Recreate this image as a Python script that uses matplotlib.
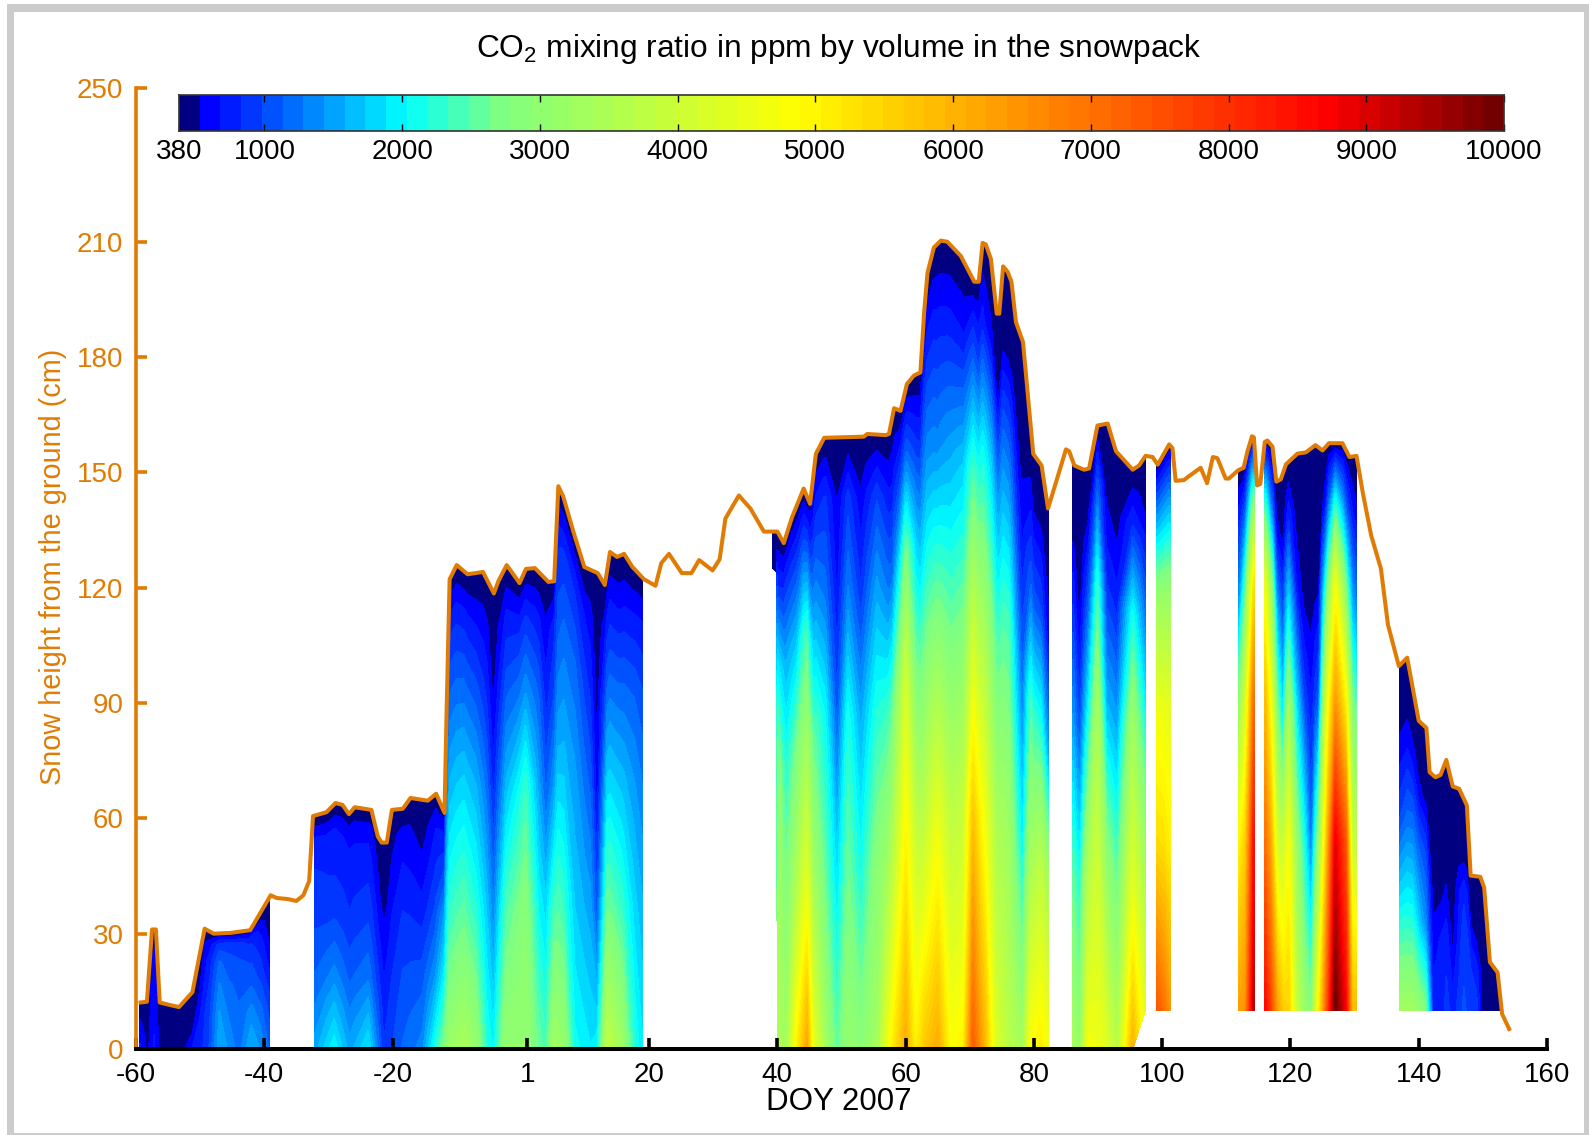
import numpy as np
import matplotlib
matplotlib.use("Agg")
import matplotlib.pyplot as plt
from matplotlib.colors import LinearSegmentedColormap, BoundaryNorm
from matplotlib.patches import Rectangle

plt.rcParams['font.family'] = ['Liberation Sans', 'DejaVu Sans']
plt.rcParams['mathtext.fontset'] = 'custom'
plt.rcParams['mathtext.rm'] = 'Liberation Sans'
plt.rcParams['mathtext.default'] = 'regular'

# snow height line (day, cm)
line_days = [-59.3, -58.3, -57.5, -56.9, -56.3, -55.1, -53.3, -51.2, -49.3, -47.9, -45.3, -42.2, -39, -38.1,
             -36.3, -35, -33.9, -33, -32.4, -30.3, -28.9, -27.8, -26.8, -25.9, -23.3, -22.3, -21.7, -20.9,
             -20.1, -18.4, -17.2, -14.5, -13.2, -11.9, -11.6, -11.1, -10, -8.3, -5.9, -4.2, -3.5, -2.2,
             -0.2, 0.8, 2.2, 4.3, 5.2, 5.85, 6.6, 8.3, 9.9, 12, 13.1, 13.9, 15, 16.1, 17.4, 19.2, 21, 21.9,
             23.1, 25.1, 26.6, 27.8, 29.9, 31, 31.9, 34, 35.8, 37.9, 40, 41, 42.3, 44.1, 45.1, 46, 47.3,
             53.5, 54, 56.9, 57.4, 58.2, 59.2, 60.2, 61.3, 62.3, 62.9, 63.4, 64.4, 65.5, 66.5, 68.6, 70.7,
             71.4, 72, 72.5, 73.3, 74.2, 74.6, 75.2, 75.9, 76.5, 77.2, 78.3, 79.9, 81.2, 82.2, 85, 85.5,
             86.3, 87.8, 88.6, 89.9, 91.5, 92.8, 95.4, 96.4, 97.4, 98.5, 99.3, 101.1, 101.6, 102.1, 103.4,
             104, 106, 107, 107.9, 108.6, 109.9, 110.4, 111.9, 112.7, 113.3, 114, 114.3, 114.8, 115.3, 116,
             116.4, 117.2, 117.8, 118.5, 119.3, 121.1, 122.4, 123.9, 125, 126, 128.1, 129.2, 130.3, 131.3,
             132.6, 134.1, 135.2, 136.9, 138.2, 140, 141.2, 141.7, 142.6, 143.4, 144.3, 145.3, 146.3, 147.5,
             148.1, 149.6, 150.2, 151.1, 152.3, 153, 154.1]
line_cm = [12.1, 12.3, 31.1, 31.1, 12.1, 11.6, 10.9, 14.8, 31.3, 30, 30.2, 30.9, 40, 39.3,
           39, 38.5, 40, 43.7, 60.6, 61.6, 64, 63.5, 61.1, 62.9, 62.2, 55.3, 53.7, 53.7,
           62.2, 62.5, 65.3, 64.6, 66.4, 61.4, 85.9, 122.2, 125.9, 123.5, 124.1, 118.5, 121.7, 125.9,
           121.2, 124.9, 125.1, 121.5, 121.7, 146.4, 143.8, 134, 125.4, 123.8, 120.7, 129.3, 128, 128.8, 125.4, 122.2, 120.5, 126.4,
           128.8, 123.8, 123.8, 127.2, 124.5, 127.4, 138, 144, 140.6, 134.6, 134.6, 131.6, 138.4, 145.8, 141.8, 154.8, 159,
           159.3, 160, 159.7, 160, 166.7, 166, 173, 175.2, 176, 192, 201.8, 208.5, 210.3, 210, 206.3, 199.6,
           199.6, 209.7, 209.3, 205.5, 191.3, 191.3, 203.6, 202.2, 199.6, 189.1, 183.9, 154.8, 151.8, 140.6, 156, 155.5,
           151.8, 150.7, 151, 162.2, 162.7, 155.5, 150.7, 151.8, 154.3, 154, 152, 157.3, 156.3, 147.8, 148,
           148.8, 151.2, 147.2, 154, 153.7, 148.4, 148.4, 150.6, 151.2, 155.5, 159.4, 159.1, 146.6, 147, 157.9,
           158.3, 156.7, 147.6, 148.2, 152.1, 154.9, 155.2, 157.1, 155.7, 157.6, 157.6, 154, 154.3, 144.5,
           133.5, 125, 110.4, 99.6, 101.8, 85.4, 83.5, 72, 70.7, 71.3, 75.2, 68.3, 67.7, 63.4,
           45.1, 44.8, 42, 22.6, 19.9, 9.1, 5.2]

# height rows of the ppm tables, as share of the snow depth (surface row is the ambient value)
depth_shares = [0, 0.3, 0.55, 0.75, 0.9, 1.0]
surface_ppm = 380

days_a = [-59.4, -58.2, -57.2, -56.2, -53, -51.2, -50, -48.5, -47, -45.5, -44, -42, -40.5, -39.2]
ppm_a = [[700, 480, 700, 460, 440, 700, 760, 1000, 1550, 1400, 1200, 1600, 1400, 1100],
         [650, 450, 650, 440, 440, 520, 700, 950, 1450, 1250, 1150, 1350, 1150, 900],
         [560, 430, 620, 420, 420, 450, 560, 850, 1300, 1150, 1100, 1100, 900, 650],
         [480, 410, 580, 400, 400, 420, 480, 750, 1150, 1050, 1000, 950, 750, 480],
         [420, 400, 500, 390, 390, 400, 420, 600, 900, 900, 850, 800, 600, 420]]

days_b = [-32.2, -29.1, -26.7, -23.8, -21.4, -18.4, -15.4, -13.3, -11.9, -11, -8.9, -7, -5.3, -4.3, -2.3,
          0.7, 2.8, 3.9, 5.2, 6.7, 8.4, 10.8, 11.9, 13.5, 15.6, 17.7, 19]
ppm_b = [[1500, 2000, 1500, 1900, 850, 1150, 1350, 2200, 2800, 3200, 3400, 3100, 2200, 2000, 3100,
          3100, 2600, 2400, 3300, 3100, 2100, 1900, 2000, 3800, 3300, 2200, 1900],
         [1150, 1350, 1100, 1250, 700, 1000, 1050, 1400, 2000, 2300, 2500, 2200, 1700, 1300, 2400,
          2900, 2000, 1800, 2400, 2200, 1700, 1500, 1000, 2600, 2300, 1800, 1600],
         [950, 950, 850, 950, 560, 850, 750, 1000, 1500, 1650, 1800, 1600, 1200, 800, 1600,
          2300, 1500, 1100, 1500, 1600, 1450, 1100, 550, 1800, 1650, 1450, 1300],
         [850, 800, 750, 780, 440, 700, 560, 780, 1000, 1150, 1200, 1050, 800, 520, 1050,
          1400, 1100, 750, 1000, 1200, 1150, 800, 430, 1150, 1100, 1100, 1000],
         [700, 680, 640, 640, 400, 580, 430, 640, 700, 780, 760, 650, 560, 420, 700,
          850, 700, 560, 780, 850, 800, 600, 390, 700, 650, 700, 700]]

days_c = [39.3, 39.95, 40, 41.4, 43, 44.6, 45.6, 47.5, 49.3, 51, 53, 55.5, 57, 58, 60, 61.5, 63, 65, 67, 69,
          70.5, 72.5, 74, 76, 78.2, 79.5, 81, 82.2]
ppm_c = [[390, 420, 3500, 3300, 5000, 6200, 4500, 3300, 2500, 3100, 2900, 3300, 4400, 5100, 6100, 5000, 5700,
          6100, 4800, 5000, 7300, 5800, 4300, 3700, 3300, 4800, 5100, 4700],
         [390, 420, 3300, 2800, 3500, 4400, 3300, 2500, 1800, 2600, 2100, 2900, 3200, 3600, 5000, 4000, 3800,
          4400, 3700, 3900, 5700, 4400, 3500, 3200, 1900, 3400, 3800, 3400],
         [390, 420, 2900, 2200, 2700, 3300, 2500, 2000, 1050, 2100, 1500, 2200, 2300, 2500, 4100, 2800, 2600,
          2700, 2500, 2700, 3900, 3100, 2500, 2400, 1050, 2400, 2200, 1500],
         [390, 420, 1900, 1600, 1700, 2400, 1500, 1200, 650, 1300, 850, 1500, 1300, 1200, 2700, 1800, 1500,
          1350, 1500, 1700, 2400, 1900, 1500, 1300, 560, 1100, 1000, 650],
         [390, 420, 800, 900, 900, 1100, 800, 850, 520, 900, 560, 950, 750, 650, 1150, 850, 800,
          750, 750, 700, 1100, 650, 520, 450, 400, 550, 500, 430]]

days_d = [86.1, 87.1, 88.5, 89.9, 91.3, 93, 95.4, 97.3]
ppm_d = [[3400, 3000, 4700, 4600, 4300, 3600, 6000, 4300],
         [2500, 2100, 3600, 4000, 3000, 2500, 4300, 3200],
         [1500, 1000, 2200, 3300, 1600, 1500, 3300, 2000],
         [850, 480, 1200, 2200, 800, 750, 2100, 1100],
         [430, 400, 550, 1100, 450, 420, 850, 520]]

days_e = [99.2, 100.2, 101.2]
ppm_e = [[7400, 7000, 6400],
         [5400, 5300, 5000],
         [4600, 4500, 4300],
         [3200, 3100, 3000],
         [1500, 1500, 1500]]

days_f = [112, 113, 113.6, 114.3]
ppm_f = [[6300, 6500, 7800, 9300],
         [5000, 5600, 6700, 8500],
         [3200, 4300, 5400, 7000],
         [1500, 2700, 3800, 5200],
         [800, 1200, 1800, 2600]]

days_g = [116, 116.8, 117.9, 118.8, 119.7, 121, 122.2, 123.2, 124.4, 125.5, 127, 128.6, 129.6, 130.3]
ppm_g = [[8600, 7800, 6300, 5600, 5500, 3800, 3100, 2800, 4900, 7000, 10000, 8700, 5900, 5900],
         [7000, 6200, 4300, 3900, 4700, 3000, 2100, 1200, 3000, 5300, 8800, 7400, 4000, 3800],
         [5800, 4800, 2900, 1900, 3300, 1800, 950, 700, 1100, 4000, 6300, 5000, 2800, 2500],
         [4500, 3300, 1600, 950, 1800, 700, 430, 420, 500, 2200, 4600, 2800, 1500, 1200],
         [2200, 1300, 600, 420, 800, 400, 390, 385, 385, 650, 2100, 1100, 700, 550]]

days_h = [137.1, 139, 141, 142.2, 143.5, 144.3, 145.3, 147, 149, 150, 152.8]
ppm_h = [[3300, 3300, 2800, 800, 700, 900, 750, 1000, 900, 430, 400],
         [2000, 2100, 1400, 600, 700, 750, 480, 950, 750, 400, 390],
         [1000, 1300, 1000, 430, 420, 480, 420, 800, 480, 390, 385],
         [600, 700, 480, 385, 385, 385, 400, 430, 400, 385, 382],
         [390, 400, 385, 382, 382, 382, 382, 385, 385, 382, 381]]

# lower edge of each block: (days, cm)
bottom_zero = ([-60, 160], [0, 0])
bottom_c = ([39.3, 39.95, 40, 160], [125, 124, 0, 0])
bottom_d = ([86, 95.5, 97.3], [0, 0, 10])
bottom_high = ([99, 160], [10, 10])

blocks = [(days_a, ppm_a, bottom_zero), (days_b, ppm_b, bottom_zero), (days_c, ppm_c, bottom_c),
          (days_d, ppm_d, bottom_d), (days_e, ppm_e, bottom_high), (days_f, ppm_f, bottom_high),
          (days_g, ppm_g, bottom_high), (days_h, ppm_h, bottom_high)]

cbar_ticks = [380, 1000, 2000, 3000, 4000, 5000, 6000, 7000, 8000, 9000, 10000]
x_ticks = [-60, -40, -20, 1, 20, 40, 60, 80, 100, 120, 140, 160]
y_ticks = [0, 30, 60, 90, 120, 150, 180, 210, 250]

ORANGE = '#E07C04'
W, H = 1589, 1135

# jet-like map with one navy block at the low end
cmap = LinearSegmentedColormap.from_list('co2', [
    (0.0, (0, 0, 0.5)), (1 / 64, (0, 0, 0.5)), (1 / 64 + 1e-4, (0, 0, 1)),
    (0.165, (0, 1, 1)), (0.24, (0.5, 1, 0.5)), (0.465, (1, 1, 0)),
    (0.87, (1, 0, 0)), (1.0, (0.45, 0, 0))], N=64)
levels = np.linspace(380, 10000, 65)
norm = BoundaryNorm(levels, 64)

fig = plt.figure(figsize=(W / 100, H / 100), dpi=100)

# grey frame of the picture
for x0, y0, x1, y1 in [(7, 4, 14, 1135), (7, 4, 1589, 12), (1584, 4, 1589, 1135), (7, 1133, 1589, 1135)]:
    fig.patches.append(Rectangle((x0 / W, 1 - y1 / H), (x1 - x0) / W, (y1 - y0) / H, transform=fig.transFigure,
                                 facecolor='#CCCCCC', edgecolor='none'))

ax = fig.add_axes([136 / W, 1 - 1049 / H, (1547 - 136) / W, (1049 - 88) / H])
ax.set_xlim(-60, 160)
ax.set_ylim(0, 250)

for days, ppm, bottom in blocks:
    x = np.array(sorted(set(days) | {d for d in line_days if days[0] < d < days[-1]}))
    snow = np.interp(x, line_days, line_cm)
    low = np.interp(x, bottom[0], bottom[1])
    rows = [np.interp(x, days, r) for r in ppm] + [np.full(len(x), surface_ppm)]
    X = np.array([x for s in depth_shares])
    Y = np.array([low + s * (snow - low) for s in depth_shares])
    cs = ax.contourf(X, Y, np.array(rows), levels=levels, cmap=cmap, norm=norm, antialiased=False)
    cs.set_edgecolor('face')
    cs.set_linewidth(0.4)

ax.plot(line_days, line_cm, color=ORANGE, lw=2.9, clip_on=False, zorder=5)

for s in ['top', 'right']:
    ax.spines[s].set_visible(False)
ax.spines['left'].set_color(ORANGE)
ax.spines['left'].set_linewidth(2.6)
ax.spines['bottom'].set_color('black')
ax.spines['bottom'].set_linewidth(2.9)
ax.spines['bottom'].set_zorder(6)

ax.set_xticks(x_ticks)
ax.set_xticklabels([str(t) for t in x_ticks])
ax.set_yticks(y_ticks)
ax.tick_params(axis='x', direction='in', length=8, width=2.6, labelsize=20, pad=9, color='black')
ax.tick_params(axis='y', direction='in', length=8, width=2.6, labelsize=20, pad=9, color=ORANGE, labelcolor=ORANGE)

fig.text(53 / W, 1 - 567 / H, 'Snow height from the ground (cm)', color=ORANGE, fontsize=20.8,
         rotation=90, ha='center', va='center')
fig.text(839 / W, 1 - 1102 / H, 'DOY 2007', color='black', fontsize=22.5, ha='center', va='center')
fig.text(839 / W, 1 - 49 / H, 'CO$_2$ mixing ratio in ppm by volume in the snowpack', color='black', fontsize=22.8,
         ha='center', va='center')

# colour key sits inside the plot area
cax = fig.add_axes([179 / W, 1 - 131 / H, (1504 - 179) / W, 36 / H])
cax.pcolormesh(levels, [0, 1], np.array([levels[:-1] + 1]), cmap=cmap, norm=norm)
cax.set_xlim(380, 10000)
cax.set_yticks([])
cax.set_xticks(cbar_ticks)
cax.tick_params(axis='x', direction='in', length=5, width=1, labelsize=20, pad=6, top=True, bottom=True)
for s in cax.spines.values():
    s.set_linewidth(1.2)
    s.set_color('#333333')

fig.savefig('out.png', dpi=100)
